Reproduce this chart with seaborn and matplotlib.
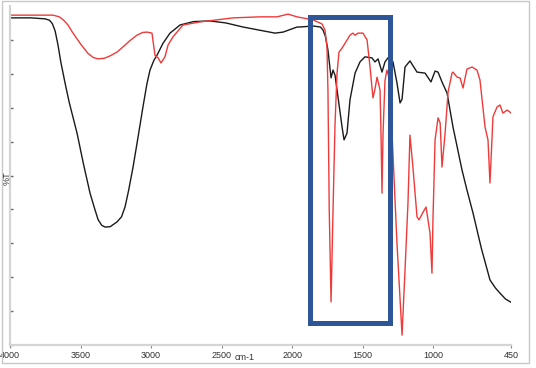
import numpy as np
import pandas as pd
import matplotlib
matplotlib.use("Agg")
import matplotlib.pyplot as plt
from matplotlib.patches import Rectangle
import seaborn as sns

# black spectrum (wavenumber, %T)
black_wn = [4000, 3850, 3750, 3720, 3700, 3680, 3660, 3640, 3610, 3580, 3525, 3480,
            3433, 3400, 3376, 3350, 3327, 3290, 3242, 3210, 3185, 3160, 3128, 3090,
            3058, 3030, 3008, 2980, 2958, 2916, 2866, 2795, 2700, 2583, 2470, 2349,
            2122, 2065, 1966, 1945, 1853, 1800, 1782, 1765, 1747, 1725, 1711, 1697,
            1676, 1647, 1633, 1612, 1591, 1555, 1520, 1485, 1435, 1414, 1392, 1364,
            1343, 1322, 1286, 1258, 1236, 1222, 1201, 1166, 1116, 1059, 1017, 988,
            967, 939, 903, 861, 797, 762, 719, 660, 599, 560, 528, 490, 450]
black_t = [96.5, 96.5, 96.2, 95.8, 94.8, 92.6, 88.5, 83.5, 77.3, 71.5, 62.5, 53.5,
           44.8, 40.2, 37.0, 35.3, 34.8, 34.9, 36.3, 37.8, 40.7, 45.5, 52.5, 62.0,
           70.2, 77.0, 81.1, 84.0, 85.5, 89.0, 92.0, 94.4, 95.4, 95.6, 95.0, 93.8,
           92.0, 92.3, 93.8, 93.8, 94.1, 93.8, 92.9, 91.0, 87.0, 78.8, 81.1, 79.6,
           73.2, 64.3, 60.5, 62.5, 72.3, 80.2, 83.5, 85.0, 84.7, 83.5, 84.4, 80.5,
           83.5, 84.7, 83.5, 77.3, 71.4, 72.5, 82.0, 83.8, 80.5, 80.2, 77.6, 80.8,
           80.5, 77.6, 74.3, 64.3, 51.6, 45.7, 38.9, 28.5, 19.2, 16.8, 15.3, 13.6, 12.6]

# red spectrum (wavenumber, %T)
red_wn = [4000, 3695, 3650, 3620, 3589, 3560, 3500, 3447, 3410, 3376, 3330, 3290,
          3242, 3200, 3150, 3100, 3060, 3029, 2994, 2973, 2951, 2930, 2902, 2880,
          2845, 2774, 2654, 2420, 2229, 2108, 2030, 1966, 1853, 1789, 1768, 1754,
          1747, 1738, 1725, 1711, 1697, 1683, 1669, 1647, 1626, 1591, 1570, 1555,
          1534, 1499, 1470, 1449, 1428, 1414, 1399, 1378, 1371, 1364, 1357, 1343,
          1329, 1315, 1293, 1258, 1222, 1201, 1180, 1166, 1145, 1116, 1102, 1073,
          1052, 1038, 1024, 1010, 1003, 988, 967, 952, 939, 917, 896, 868, 861, 832,
          811, 790, 762, 726, 691, 670, 634, 613, 599, 585, 578, 549, 528, 507, 478,
          457, 450]
red_t = [97.3, 97.3, 96.8, 95.8, 94.4, 92.4, 88.8, 86.0, 84.8, 84.4, 84.6, 85.3,
         86.4, 87.9, 89.8, 91.4, 92.2, 92.3, 92.0, 85.5, 84.7, 83.2, 85.0, 88.5,
         90.9, 94.4, 95.3, 96.5, 96.8, 96.8, 97.6, 96.8, 95.9, 94.7, 92.9, 87.9,
         75.0, 40.0, 12.7, 40.0, 65.0, 80.0, 86.4, 87.6, 89.0, 91.4, 92.0, 91.4,
         92.0, 92.0, 90.0, 82.0, 72.9, 75.5, 79.0, 75.2, 62.0, 44.8, 62.0, 78.0,
         81.1, 79.0, 62.5, 30.0, 2.9, 22.1, 41.9, 61.9, 52.5, 37.8, 36.9, 39.2,
         40.7, 36.9, 33.0, 21.2, 36.9, 60.5, 67.0, 65.5, 52.5, 62.5, 74.6, 80.2,
         80.5, 79.0, 78.8, 75.8, 81.4, 82.0, 81.1, 78.2, 64.3, 60.5, 47.8, 60.5,
         67.3, 70.2, 70.8, 68.4, 69.3, 68.7, 68.4]

xticks = [4000, 3500, 3000, 2500, 2000, 1500, 1000, 450]
box_wn = (1877, 1310)
box_t = (6.6, 96.9)

sns.set_style("white")
plt.rcParams['font.family'] = ['Liberation Sans', 'DejaVu Sans']

black = pd.DataFrame({'wn': black_wn, 't': black_t})
red = pd.DataFrame({'wn': red_wn, 't': red_t})

fig = plt.figure(figsize=(5.36, 3.68), dpi=100)
ax = fig.add_axes([10 / 536, 23 / 368, 501 / 536, 339 / 368])

sns.lineplot(data=black, x='wn', y='t', ax=ax, color='#1a1a1a', lw=1.0, sort=False)
sns.lineplot(data=red, x='wn', y='t', ax=ax, color='#f03a3a', lw=1.0, sort=False)

ax.set_xlim(4000, 450)
ax.set_ylim(0, 100)
ax.set_xticks(xticks)
ax.set_xticklabels([str(t) for t in xticks])
ax.set_yticks(np.arange(0, 100, 10))
ax.set_yticklabels([])
ax.set_xlabel('')
ax.set_ylabel('')

for s in ['top', 'right']:
    ax.spines[s].set_visible(False)
for s in ['left', 'bottom']:
    ax.spines[s].set_color('#d4d4d4')
    ax.spines[s].set_linewidth(1.6)
ax.tick_params(axis='y', length=2, width=1, color='#666666', direction='in', left=True)
ax.tick_params(axis='x', length=2, width=0.8, color='#888888', direction='out', bottom=True,
               labelsize=6.5, labelcolor='#333333', pad=2)

# highlight box
ax.add_patch(Rectangle((box_wn[1], box_t[0]), box_wn[0] - box_wn[1], box_t[1] - box_t[0],
                       fill=False, edgecolor='#2e5597', lw=3.6, zorder=5))

fig.text(245 / 536, 1 - 358 / 368, 'cm-1', ha='center', va='center', fontsize=6.5, color='#333333')
fig.text(7 / 536, 1 - 178 / 368, '%T', ha='center', va='center', rotation=90, fontsize=6.5,
         color='#333333')

# outer frame
fig.patches.append(Rectangle((2 / 536, 5 / 368), 527 / 536, 362 / 368, transform=fig.transFigure,
                             fill=False, edgecolor='#c8c8c8', lw=1))

fig.savefig('out.png', dpi=100)
